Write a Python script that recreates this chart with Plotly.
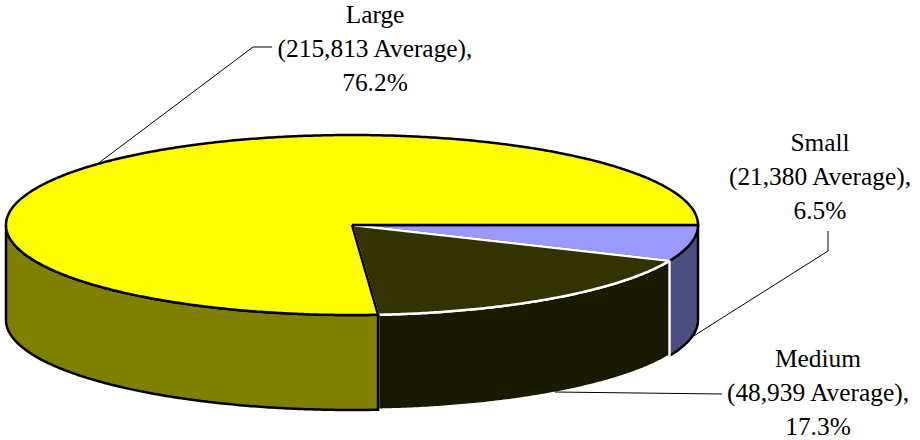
import numpy as np
import plotly.graph_objects as go

# Data, in drawing order (clockwise from 3 o'clock)
categories = ["Small", "Medium", "Large"]
averages = [21380, 48939, 215813]
percents = [6.5, 17.3, 76.2]

# Styles
top_colors = ["#9999FF", "#333300", "#FFFF00"]
wall_colors = ["#4D4D80", "#1A1A00", "#808000"]
edge_colors = ["black", "white", "black"]

# Pie geometry in the pixel-sized axis space
CX, CY, RX, RY, DEPTH = 352, 225, 346, 90, 95
# label centre x, first-line y
label_pos = {"Small": (820, 145), "Medium": (818, 360.5), "Large": (375, 16.5)}
LINE_STEP = 34
FONT = "Liberation Serif"
FONT_SIZE = 25.4
leaders = {
    "Small": ([692, 828, 828], [337, 251, 231]),
    "Medium": ([555, 722], [392, 394]),
    "Large": ([100, 253, 272], [162, 47, 47]),
}


def rim(a0, a1):
    t = np.radians(np.linspace(a0, a1, max(int(abs(a1 - a0) * 2), 2)))
    return CX + RX * np.cos(t), CY + RY * np.sin(t)


fig = go.Figure()
edges = np.concatenate([[0], np.cumsum(percents)]) * 3.6
for i, name in enumerate(categories):
    a0, a1 = edges[i], edges[i + 1]
    # Visible wall: the front half of the rim only
    if a0 < 180:
        x, y = rim(a0, min(a1, 180))
        fig.add_trace(go.Scatter(
            x=np.concatenate([x, x[::-1], x[:1]]),
            y=np.concatenate([y, y[::-1] + DEPTH, y[:1]]),
            mode="lines", fill="toself", fillcolor=wall_colors[i],
            line=dict(color=edge_colors[i], width=2.5, simplify=False),
            hoverinfo="skip", showlegend=False,
        ))
    x, y = rim(a0, a1)
    fig.add_trace(go.Scatter(
        x=np.concatenate([[CX], x, [CX]]),
        y=np.concatenate([[CY], y, [CY]]),
        mode="lines", fill="toself", fillcolor=top_colors[i],
        line=dict(color=edge_colors[i], width=2.5, simplify=False),
        name=name, hoverinfo="skip", showlegend=False,
    ))

for i, name in enumerate(categories):
    lx, ly = leaders[name]
    fig.add_trace(go.Scatter(
        x=lx, y=ly, mode="lines", line=dict(color="black", width=1),
        hoverinfo="skip", showlegend=False,
    ))
    px, py = label_pos[name]
    lines = [name, f"({averages[i]:,} Average),", f"{percents[i]}%"]
    fig.add_trace(go.Scatter(
        x=[px] * 3, y=[py + k * LINE_STEP for k in range(3)],
        mode="text", text=lines, textposition="middle center",
        textfont=dict(family=FONT, size=FONT_SIZE, color="black"),
        hoverinfo="skip", showlegend=False, cliponaxis=False,
    ))

fig.update_layout(
    width=920, height=440, autosize=False,
    margin=dict(l=0, r=0, t=0, b=0),
    paper_bgcolor="white", plot_bgcolor="white",
    xaxis=dict(range=[0, 920], visible=False, fixedrange=True),
    yaxis=dict(range=[440, 0], visible=False, fixedrange=True),
)
fig.write_html("out.html", config={"displayModeBar": False},
               post_script="document.body.style.margin='0';document.documentElement.style.overflow='hidden';")
